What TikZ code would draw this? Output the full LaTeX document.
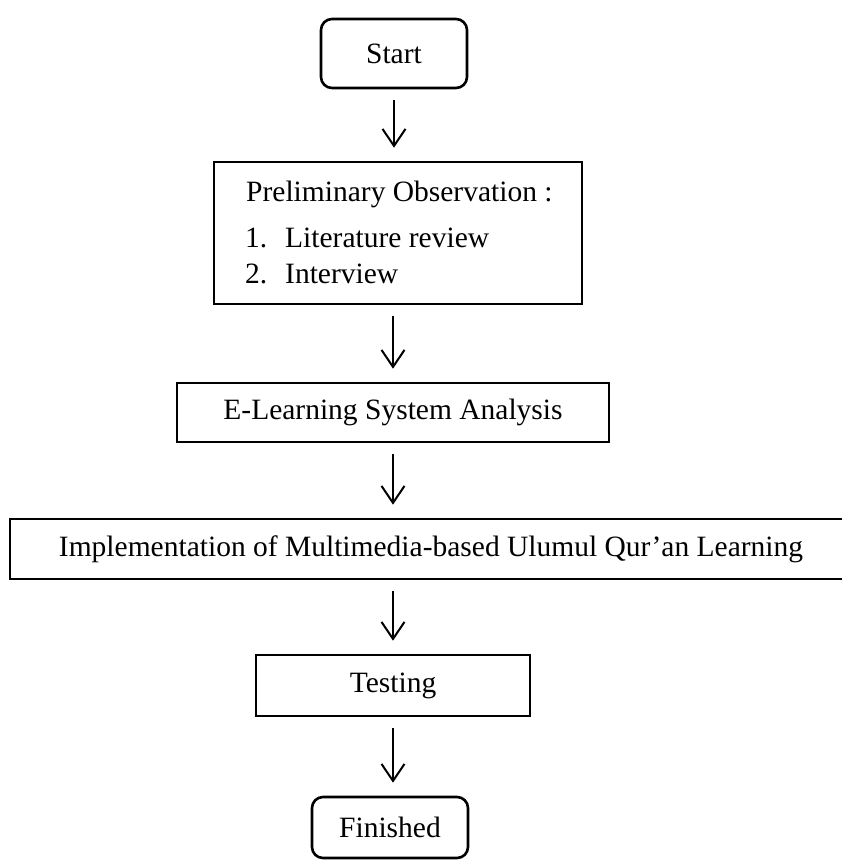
\documentclass[tikz,border=0pt]{standalone}
\usepackage{fontspec}
\setmainfont{Liberation Serif}
\usetikzlibrary{arrows.meta}
\begin{document}
\begin{tikzpicture}[x=1pt,y=-1pt,
  every node/.style={font=\fontsize{29.5}{35}\selectfont},
  box/.style={draw, line width=2.6pt, rectangle, inner sep=0pt},
  term/.style={box, rounded corners=11pt},
  arr/.style={line width=2pt, -{Straight Barb[length=17pt 0, width=23pt 0, line width=2pt]},
    shorten <=11pt, shorten >=13pt}]
\useasboundingbox (0,0) rectangle (842,860);
\clip (0,0) rectangle (842,860);
\node[term, minimum width=146pt, minimum height=69pt] (start) at (394,53.5) {Start};
\node[box, minimum width=368pt, minimum height=142pt] (prelim) at (398,233) {};
\node[anchor=base west, inner sep=0pt] (ptitle) at (246,201.5) {Preliminary Observation :};
\node[anchor=base west, inner sep=0pt] (n1) at (245,247) {1.};
\node[anchor=base west, inner sep=0pt] (i1) at (285,247) {Literature review};
\node[anchor=base west, inner sep=0pt] (n2) at (245,283) {2.};
\node[anchor=base west, inner sep=0pt] (i2) at (285,283) {Interview};
\node[box, minimum width=432pt, minimum height=59pt] (el) at (393,412.5) {E-Learning System Analysis};
\node[box, minimum width=842pt, minimum height=60pt] (impl) at (431,549) {Implementation of Multimedia-based Ulumul Qur’an Learning};
\node[box, minimum width=274pt, minimum height=61pt] (test) at (393,685.5) {Testing};
\node[term, minimum width=156pt, minimum height=61pt] (fin) at (390,827.5) {Finished};
\draw[arr] (start.south) -- (start.south |- prelim.north);
\draw[arr] (el.north |- prelim.south) -- (el.north);
\draw[arr] (el.south) -- (el.south |- impl.north);
\draw[arr] (test.north |- impl.south) -- (test.north);
\draw[arr] (test.south) -- (test.south |- fin.north);
\end{tikzpicture}
\end{document}
